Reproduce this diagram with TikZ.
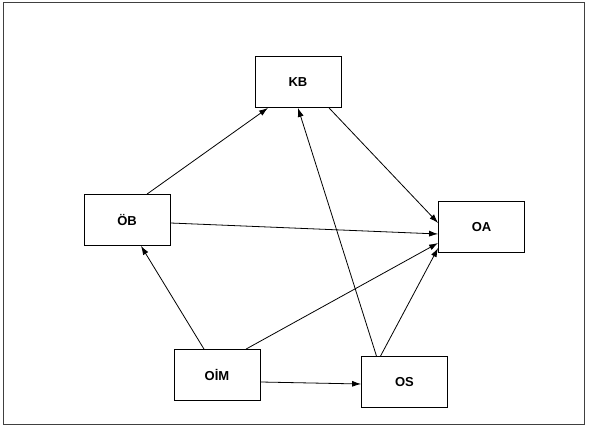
\documentclass[tikz,border=0pt]{standalone}
\usepackage{fontspec}
\setmainfont{Liberation Sans}
\usetikzlibrary{arrows.meta,positioning}

\begin{document}
\begin{tikzpicture}[x=1pt,y=-1pt,
  box/.style={draw,line width=0.8pt,minimum width=86pt,minimum height=51pt,
    inner sep=0pt,font=\fontsize{13}{15}\selectfont\bfseries},
  link/.style={line width=0.8pt,-{Latex[length=9pt,width=6pt]}}]
  \useasboundingbox (0,0) rectangle (590,427);
  \draw[line width=0.8pt,black!75] (3,2) rectangle (584,424);
  \node[box] (kb) at (298,82) {KB};
  \node[box] (oeb) at (127,220) {ÖB};
  \node[box] (oa) at (481.5,227) {OA};
  \node[box] (oim) at (217,375) {OİM};
  \node[box] (os) at (404.5,382) {OS};
  \draw[link] ([xshift=20pt]oeb.north)--([xshift=-30pt]kb.south);
  \draw[link] ([xshift=31pt]kb.south)--([yshift=4pt]oa.west);
  \draw[link] ([yshift=-3pt]oeb.east)--([yshift=-7pt]oa.west);
  \draw[link] ([xshift=-13pt]oim.north)--([xshift=14pt]oeb.south);
  \draw[link] ([xshift=29pt]oim.north)--([yshift=-16pt]oa.west);
  \draw[link] ([yshift=-7pt]oim.east)--([yshift=-2pt]os.west);
  \draw[link] ([xshift=-28pt]os.north)--(kb.south);
  \draw[link] ([xshift=-24pt]os.north)--([yshift=-21pt]oa.west);
\end{tikzpicture}
\end{document}
